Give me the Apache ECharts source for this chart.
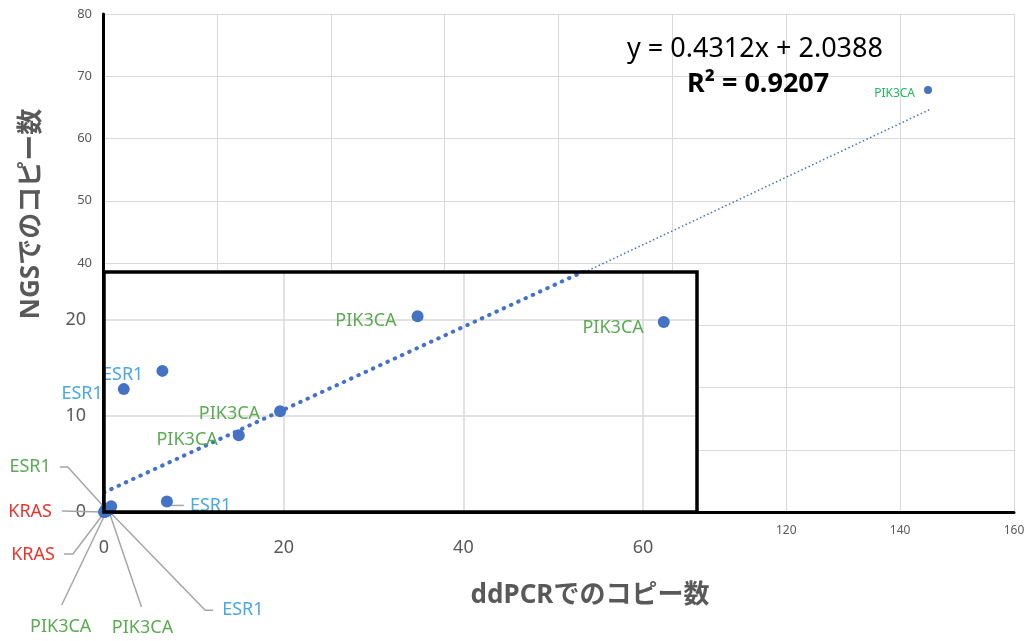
<!DOCTYPE html>
<html>
<head>
<meta charset="utf-8">
<script src="https://cdn.jsdelivr.net/npm/echarts@6/dist/echarts.min.js"></script>
<style>
html,body{margin:0;padding:0;background:#fff;}
#chart{width:1029px;height:641px;}
</style>
</head>
<body>
<div id="chart"></div>
<script>
// ---- data ----
const outerNames = ['PIK3CA'];
const outerX = [144.9];
const outerY = [67.8];

const insetNames = ['PIK3CA','PIK3CA','ESR1','ESR1','PIK3CA','PIK3CA','ESR1',
                    'ESR1','KRAS','KRAS','PIK3CA','PIK3CA','ESR1'];
const insetX = [34.9, 62.3, 6.5, 2.2, 19.6, 15.0, 7.0,
                0.2, 0.0, 0.1, 0.3, 0.5, 0.8];
const insetY = [20.4, 19.8, 14.7, 12.8, 10.5, 8.0, 1.1,
                0.3, 0.0, 0.0, 0.1, 0.2, 0.6];

const trendSlope = 0.4312;
const trendIntercept = 2.0388;
const trendR2 = 0.9207;
const outerTrendX = [0, 145.5];
const insetTrendX = [0, 66];

const xTitle = 'ddPCRでのコピー数';
const yTitle = 'NGSでのコピー数';

// ---- styles ----
const GREEN = '#5aab52', BLUE = '#4aa8e2', RED = '#e8362f';
const labelColors = [GREEN, GREEN, BLUE, BLUE, GREEN, GREEN, BLUE,
                     GREEN, RED, RED, GREEN, GREEN, BLUE];
// text anchor offsets (px) from the point, alignment, optional leader polyline offsets
const labelStyles = [
  {dx:-21, dy:5, align:'right'},
  {dx:-20, dy:6, align:'right'},
  {dx:-19, dy:4, align:'right'},
  {dx:-21, dy:5, align:'right'},
  {dx:-20, dy:3, align:'right'},
  {dx:-21, dy:5, align:'right'},
  {dx:23, dy:4, align:'left', line:[[1,4],[17,4]]},
  {dx:-55, dy:-42, align:'right', line:[[0,0],[-38,-42],[-46,-42]]},
  {dx:-52, dy:0, align:'right', line:[[0,0],[-42,-1]]},
  {dx:-50, dy:43, align:'right', line:[[0,0],[-32,42],[-41,42]]},
  {dx:-46, dy:116, align:'center', line:[[0,0],[-45,94]]},
  {dx:34, dy:118, align:'center', line:[[0,0],[33,97]]},
  {dx:111, dy:104, align:'left', line:[[-4,3],[94,104],[102,104]]}
];

const FONT = "'Noto Sans', 'Noto Sans CJK JP', sans-serif";
const GRID_C = '#d9d9d9';
const AXIS_TXT = '#595959';

const outerData = outerX.map((x,i)=>[x, outerY[i]]);
const insetData = insetX.map((x,i)=>[x, insetY[i]]);
const outerTrend = outerTrendX.map(x=>[x, trendSlope*x + trendIntercept]);
const insetTrend = insetTrendX.map(x=>[x, trendSlope*x + trendIntercept]);

const chart = echarts.init(document.getElementById('chart'), null, {renderer:'canvas'});

const option = {
  animation: false,
  backgroundColor: '#fff',
  textStyle: {fontFamily: FONT},
  grid: [
    {left:103, right:15, top:14, bottom:129, containLabel:false, z:0},
    {left:104, top:272, width:593, bottom:129, show:true, backgroundColor:'#fff',
     borderColor:'#000', borderWidth:0, z:10}
  ],
  xAxis: [
    {type:'value', gridIndex:0, min:0, max:160, interval:20, z:1,
     axisLine:{show:true, onZero:false, lineStyle:{color:'#000', width:3}},
     axisTick:{show:false},
     splitLine:{show:true, lineStyle:{color:GRID_C, width:1}},
     axisLabel:{fontSize:12, color:AXIS_TXT, margin:13, fontFamily:FONT,
       formatter:v=> v>=120 ? String(v) : ''}},
    {type:'value', gridIndex:1, min:0, max:66, interval:20, z:11,
     axisLine:{show:false}, axisTick:{show:false},
     splitLine:{show:true, showMinLine:false, showMaxLine:false, lineStyle:{color:GRID_C, width:1.5}},
     axisLabel:{fontSize:18, color:AXIS_TXT, margin:27, showMaxLabel:false, fontFamily:FONT}}
  ],
  yAxis: [
    {type:'value', gridIndex:0, min:0, max:80, interval:10, z:1,
     axisLine:{show:true, onZero:false, lineStyle:{color:'#000', width:3}},
     axisTick:{show:false},
     splitLine:{show:true, lineStyle:{color:GRID_C, width:1}},
     axisLabel:{fontSize:13, color:AXIS_TXT, margin:11, fontFamily:FONT,
       formatter:v=> v>=40 ? String(v) : ''}},
    {type:'value', gridIndex:1, min:0, max:25, interval:10, z:11,
     axisLine:{show:false}, axisTick:{show:false},
     splitLine:{show:true, showMinLine:false, showMaxLine:false, lineStyle:{color:GRID_C, width:1.5}},
     axisLabel:{fontSize:18, color:AXIS_TXT, margin:18, showMaxLabel:false, fontFamily:FONT}}
  ],
  series: [
    {type:'line', xAxisIndex:0, yAxisIndex:0, data:outerTrend, symbol:'none', z:2,
     lineStyle:{color:'#4472C4', width:1.5, type:[1.5,2.5]}},
    {type:'scatter', xAxisIndex:0, yAxisIndex:0, data:outerData, symbolSize:8, z:3,
     itemStyle:{color:'#4472C4', opacity:1},
     label:{show:true, position:'left', distance:9, offset:[0,4], fontSize:12, color:'#1fb85c', fontFamily:FONT,
       formatter:p=>outerNames[p.dataIndex]}},
    {type:'line', xAxisIndex:1, yAxisIndex:1, data:insetTrend, symbol:'none', z:12, clip:true,
     lineStyle:{color:'#4472C4', width:4, type:[0.5,7.5], cap:'round'}},
    {type:'scatter', xAxisIndex:1, yAxisIndex:1, data:insetData, symbolSize:12, z:14, clip:false,
     itemStyle:{color:'#4472C4', opacity:1}},
    {type:'custom', xAxisIndex:1, yAxisIndex:1, data:insetData, z:13, clip:false,
     renderItem:function(params, api){
       const i = params.dataIndex;
       const p = api.coord([api.value(0), api.value(1)]);
       const st = labelStyles[i];
       const children = [];
       if (st.line) {
         children.push({type:'polyline', shape:{points: st.line.map(o=>[p[0]+o[0], p[1]+o[1]])},
           style:{stroke:'#a6a6a6', lineWidth:1.5, fill:null}});
       }
       children.push({type:'text', x:p[0]+st.dx, y:p[1]+st.dy,
         style:{text: insetNames[i], fill: labelColors[i], font:'18px ' + FONT,
                align: st.align, verticalAlign:'middle'}});
       return {type:'group', children};
     }}
  ],
  graphic: [
    // inset frame (top/right/bottom/left edges of the zoomed panel)
    {type:'rect', shape:{x:104, y:272, width:593, height:240}, z:15, silent:true,
     style:{fill:null, stroke:'#000', lineWidth:3.5}},
    {type:'text', left:627, top:36, z:20,
     style:{text:'y = ' + trendSlope + 'x + ' + trendIntercept, fill:'#000', font:'27px ' + FONT}},
    {type:'text', left:687, top:71, z:20,
     style:{text:'R² = ' + trendR2, fill:'#000', font:'bold 27px ' + FONT}},
    {type:'text', x:590, y:596, z:20,
     style:{text:xTitle, fill:AXIS_TXT, font:'bold 26px ' + FONT, align:'center', verticalAlign:'middle'}},
    {type:'text', x:32, y:214, rotation:Math.PI/2, z:20,
     style:{text:yTitle, fill:AXIS_TXT, font:'bold 26px ' + FONT, align:'center', verticalAlign:'middle'}}
  ]
};
chart.setOption(option);
</script>
</body>
</html>
